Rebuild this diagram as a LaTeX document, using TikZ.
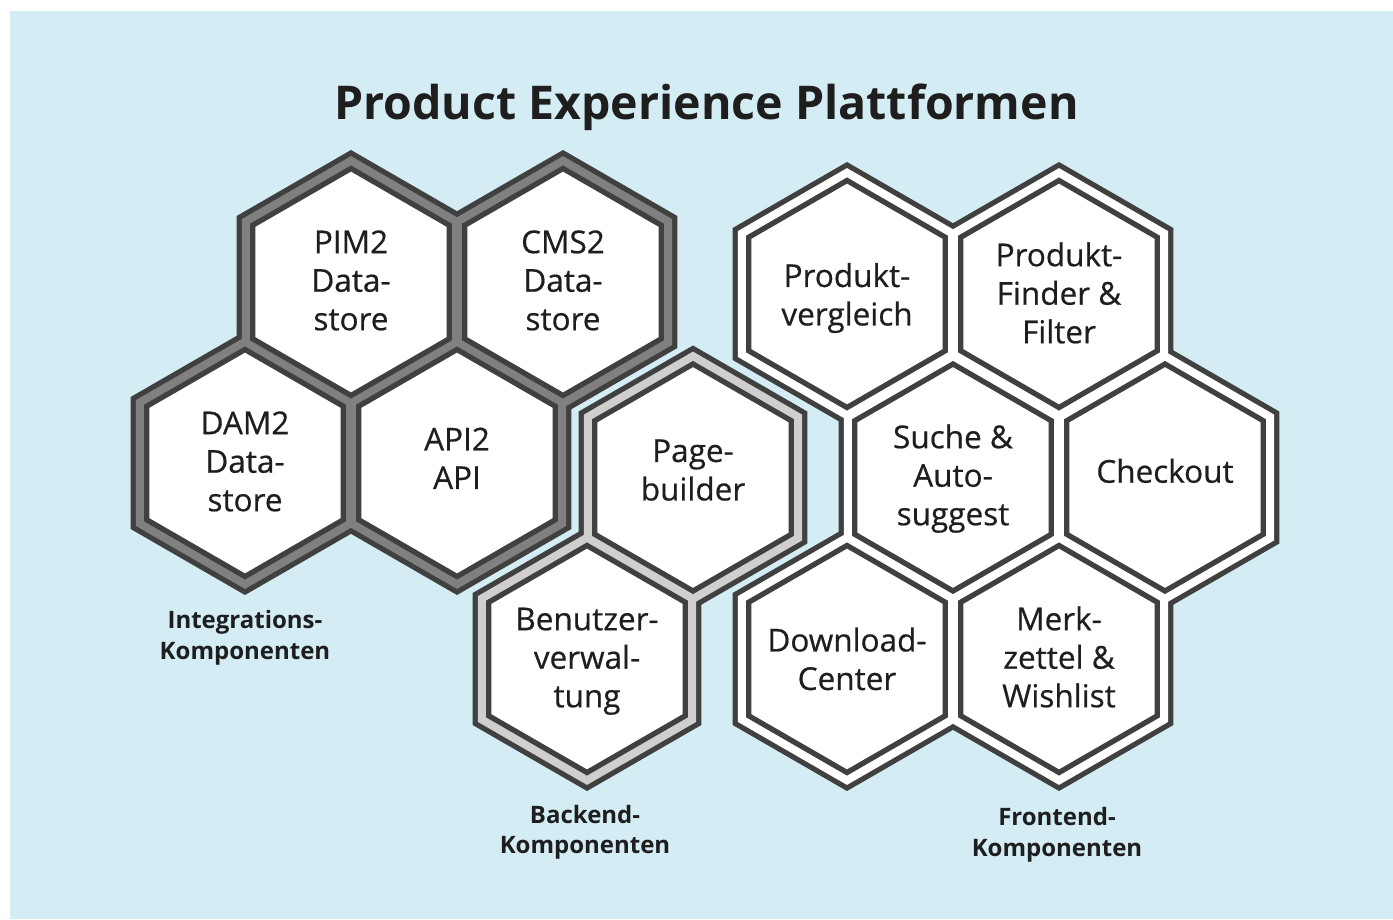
\documentclass[tikz,border=0pt]{standalone}
\usepackage{fontspec}
\setmainfont{Open Sans}
\newfontfamily\hexfont{Open Sans}[FakeBold=0.5]
\definecolor{bg}{HTML}{D4ECF3}
\definecolor{hexline}{HTML}{404040}
\definecolor{bandA}{HTML}{808080}
\definecolor{bandB}{HTML}{D0CECE}
\definecolor{txt}{HTML}{1E1E1E}
\tikzset{
  pics/hexshape/.style={code={\path[pic actions] (90:#1) -- (150:#1) -- (210:#1) -- (270:#1) -- (330:#1) -- (30:#1) -- cycle;}},
  outerline/.style={draw=hexline, line width=10.6pt, line join=miter},
  outerfill/.style={fill=#1},
  innerhex/.style={fill=white, draw=hexline, line width=5.3pt, line join=miter},
  hextext/.style={font=\hexfont\fontsize{31.5}{38.5}\selectfont, align=center, text=txt, inner sep=0pt},
  grouplabel/.style={font=\bfseries\fontsize{24}{30.7}\selectfont, align=center, text=txt, inner sep=0pt},
  titletext/.style={font=\bfseries\fontsize{46.5}{56}\selectfont, text=txt, inner sep=0pt}
}
\begin{document}
\begin{tikzpicture}[x=1pt, y=-1pt]
\useasboundingbox (0,0) rectangle (1393,919);
\fill[white] (0,0) rectangle (1393,919);
\fill[bg] (10,11) rectangle (1393,919);

% ---------- Integration group ----------
\foreach \cx/\cy in {351/282, 563/282, 245/463, 457/463}
  \pic[outerline] at (\cx,\cy) {hexshape=125.9};
\foreach \cx/\cy in {351/282, 563/282, 245/463, 457/463}
  \pic[outerfill=bandA] at (\cx,\cy) {hexshape=125.9};
\foreach \cx/\cy in {351/282, 563/282, 245/463, 457/463}
  \pic[innerhex] at (\cx,\cy) {hexshape=113.5};

% ---------- Backend group ----------
\foreach \cx/\cy in {693/477.5, 587/659}
  \pic[outerline] at (\cx,\cy) {hexshape=125.9};
\foreach \cx/\cy in {693/477.5, 587/659}
  \pic[outerfill=bandB] at (\cx,\cy) {hexshape=125.9};
\foreach \cx/\cy in {693/477.5, 587/659}
  \pic[innerhex] at (\cx,\cy) {hexshape=113.5};

% ---------- Frontend group ----------
\foreach \cx/\cy in {847/294, 1059/294, 953/477.5, 1165/477.5, 847/659, 1059/659}
  \pic[outerline] at (\cx,\cy) {hexshape=125.9};
\foreach \cx/\cy in {847/294, 1059/294, 953/477.5, 1165/477.5, 847/659, 1059/659}
  \pic[outerfill=white] at (\cx,\cy) {hexshape=125.9};
\foreach \cx/\cy in {847/294, 1059/294, 953/477.5, 1165/477.5, 847/659, 1059/659}
  \pic[innerhex] at (\cx,\cy) {hexshape=113.5};

% ---------- texts ----------
\node[titletext, anchor=base] (title) at (706.5,119) {Product Experience Plattformen};

\node[hextext] (pim) at (351,284) {PIM2\strut\\Data-\strut\\store\strut};
\node[hextext] (cms) at (563,284) {CMS2\strut\\Data-\strut\\store\strut};
\node[hextext] (dam) at (245,465) {DAM2\strut\\Data-\strut\\store\strut};
\node[hextext] (api) at (457,462) {API2\strut\\API\strut};

\node[hextext] (page) at (693,473.5) {Page-\strut\\builder\strut};
\node[hextext] (user) at (587,661) {Benutzer-\strut\\verwal-\strut\\tung\strut};

\node[hextext] (compare) at (847,298.5) {Produkt-\strut\\vergleich\strut};
\node[hextext] (finder) at (1059,297) {Produkt-\strut\\Finder \&\strut\\Filter\strut};
\node[hextext] (search) at (953,479) {Suche \&\strut\\Auto-\strut\\suggest\strut};
\node[hextext] (checkout) at (1165,475) {Checkout\strut};
\node[hextext] (download) at (847,663) {Download-\strut\\Center\strut};
\node[hextext] (wish) at (1059,661) {Merk-\strut\\zettel \&\strut\\Wishlist\strut};

\node[grouplabel] (lblint) at (245,637.9) {Integrations-\strut\\Komponenten\strut};
\node[grouplabel] (lblback) at (585,832.4) {Backend-\strut\\Komponenten\strut};
\node[grouplabel] (lblfront) at (1057,835) {Frontend-\strut\\Komponenten\strut};
\end{tikzpicture}
\end{document}
